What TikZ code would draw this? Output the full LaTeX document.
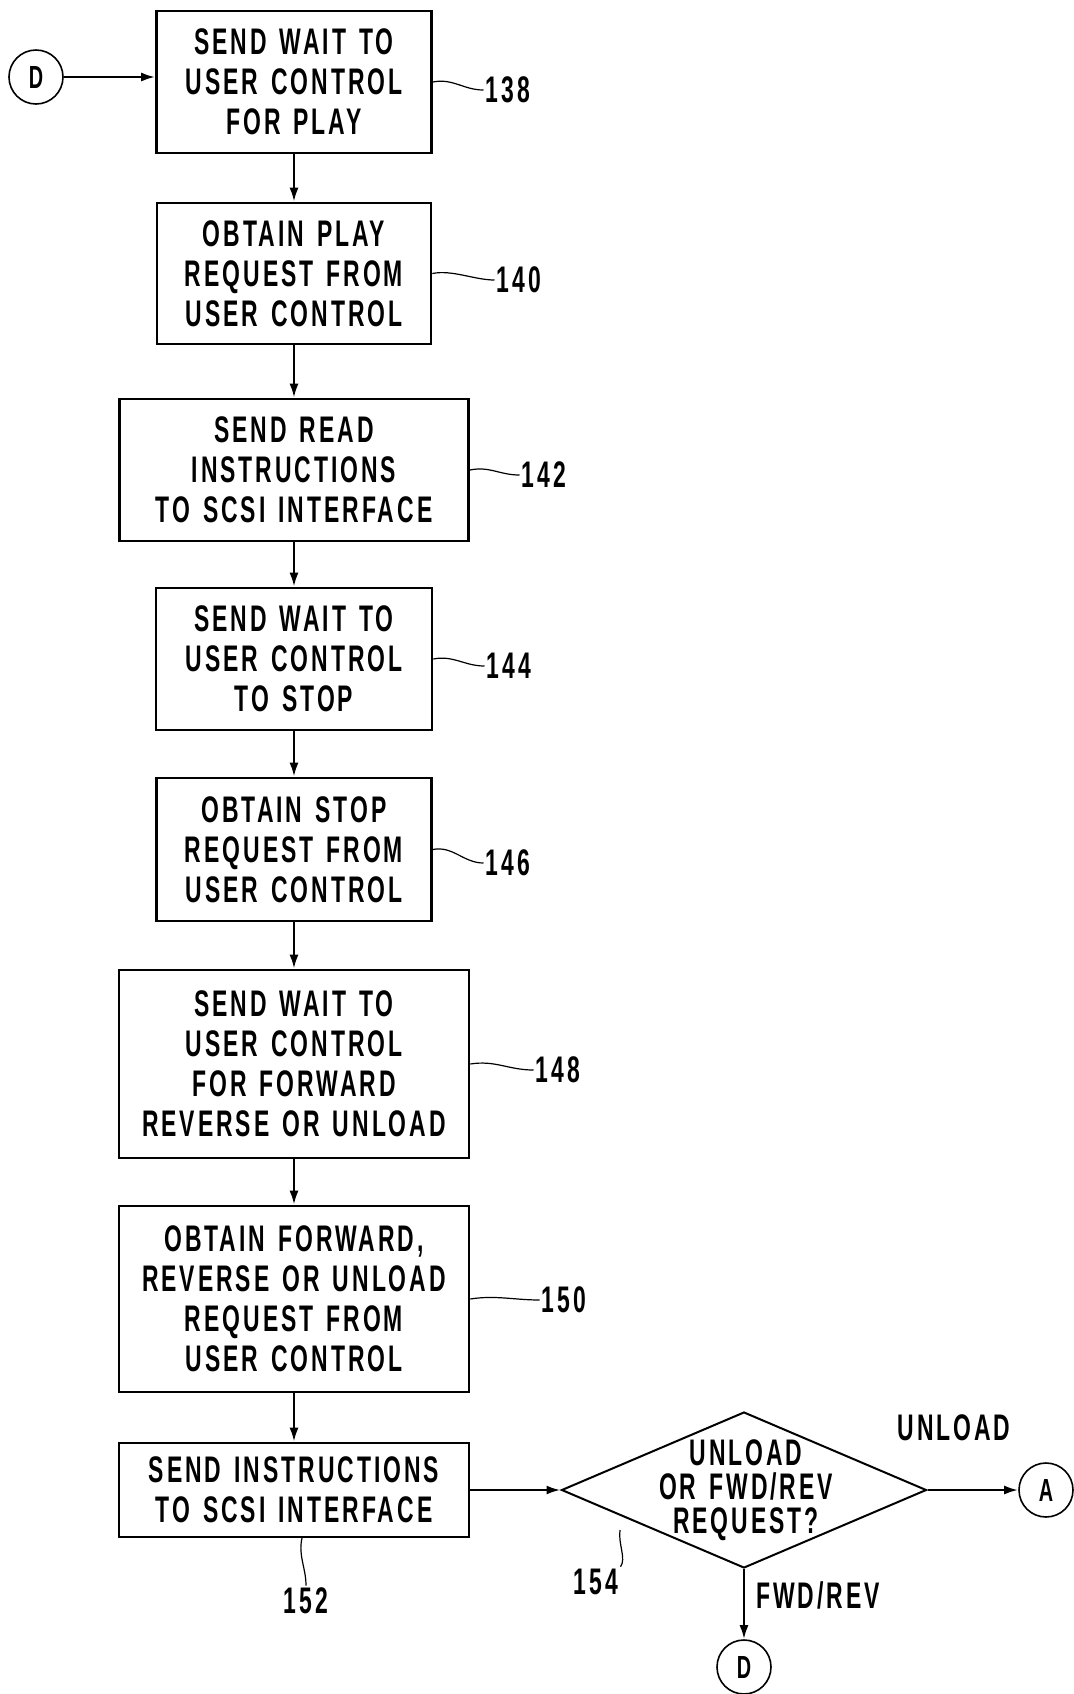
\documentclass[tikz,border=0pt]{standalone}
\usepackage{fontspec}
\setmainfont{Liberation Sans}
\newfontfamily\patfont{Liberation Sans}[FakeStretch=0.62, LetterSpace=8, WordSpace=1.4]
\usetikzlibrary{shapes.geometric, arrows.meta, positioning}

\begin{document}
\begin{tikzpicture}[x=0.5pt, y=-0.5pt,
  stepbox/.style={draw, line width=1.3pt, align=center, inner sep=0pt, font=\patfont\bfseries\fontsize{18.5}{20}\selectfont},
  decision/.style={draw, diamond, line width=1pt, inner sep=0pt, minimum width=182.5pt, minimum height=78pt},
  conn/.style={draw, circle, line width=0.8pt, inner sep=0pt, minimum size=27pt, font=\patfont\bfseries\fontsize{16}{16}\selectfont},
  flow/.style={-{Latex[length=7pt, width=4.5pt]}, line width=1.2pt},
  refnum/.style={inner sep=1pt, font=\patfont\bfseries\fontsize{18.5}{18.5}\selectfont},
  lead/.style={line width=0.6pt}
]
  \useasboundingbox (0,0) rectangle (1074,1694);

  % process steps
  \node[stepbox, minimum width=137.5pt, minimum height=71pt] (b138) at (294,82) {SEND WAIT TO\\USER CONTROL\\FOR PLAY};
  \node[stepbox, minimum width=137pt, minimum height=70.5pt] (b140) at (294,273.5) {OBTAIN PLAY\\REQUEST FROM\\USER CONTROL};
  \node[stepbox, minimum width=174.5pt, minimum height=71pt] (b142) at (294,470) {SEND READ\\INSTRUCTIONS\\TO SCSI INTERFACE};
  \node[stepbox, minimum width=138pt, minimum height=71pt] (b144) at (294,659) {SEND WAIT TO\\USER CONTROL\\TO STOP};
  \node[stepbox, minimum width=137.5pt, minimum height=71.5pt] (b146) at (294,849.5) {OBTAIN STOP\\REQUEST FROM\\USER CONTROL};
  \node[stepbox, minimum width=175pt, minimum height=94pt] (b148) at (294,1064) {SEND WAIT TO\\USER CONTROL\\FOR FORWARD\\REVERSE OR UNLOAD};
  \node[stepbox, minimum width=175pt, minimum height=93pt] (b150) at (294,1299) {OBTAIN FORWARD,\\REVERSE OR UNLOAD\\REQUEST FROM\\USER CONTROL};
  \node[stepbox, minimum width=175pt, minimum height=47pt] (b152) at (294,1490) {SEND INSTRUCTIONS\\TO SCSI INTERFACE};

  % decision
  \node[decision] (dec) at (744,1490) {};
  \node[align=center, font=\patfont\bfseries\fontsize{18.5}{17}\selectfont] (dectext) at (746,1490) {UNLOAD\\OR FWD/REV\\REQUEST?};

  % connectors
  \node[conn] (cd1) at (36,77) {D};
  \node[conn] (ca) at (1046,1490) {A};
  \node[conn] (cd2) at (744,1667) {D};

  % branch labels
  \node[refnum] (lunload) at (954,1428) {UNLOAD};
  \node[refnum] (lfwdrev) at (818,1595) {FWD/REV};

  % reference numbers
  \node[refnum] (n138) at (508,90) {138};
  \node[refnum] (n140) at (519,280) {140};
  \node[refnum] (n142) at (544,475) {142};
  \node[refnum] (n144) at (509,666) {144};
  \node[refnum] (n146) at (508,863) {146};
  \node[refnum] (n148) at (558,1070) {148};
  \node[refnum] (n150) at (564,1300) {150};
  \node[refnum] (n152) at (306,1601) {152};
  \node[refnum] (n154) at (596,1582) {154};
  \coordinate (t152) at (302,1538);
  \coordinate (t154) at (620,1530);

  % flow
  \draw[flow] (cd1) -- (cd1 -| b138.west);
  \draw[flow] (b138) -- (b140);
  \draw[flow] (b140) -- (b142);
  \draw[flow] (b142) -- (b144);
  \draw[flow] (b144) -- (b146);
  \draw[flow] (b146) -- (b148);
  \draw[flow] (b148) -- (b150);
  \draw[flow] (b150) -- (b152);
  \draw[flow] (b152) -- (dec);
  \draw[flow] (dec.east) -- (ca);
  \draw[flow] (dec.south) -- (cd2);

  % leaders
  \draw[lead] (b138.east) .. controls +(20,-4) and +(-20,0) .. (n138.west);
  \draw[lead] (b140.east) .. controls +(20,-4) and +(-20,0) .. (n140.west);
  \draw[lead] (b142.east) .. controls +(20,-4) and +(-20,0) .. (n142.west);
  \draw[lead] (b144.east) .. controls +(20,-4) and +(-20,0) .. (n144.west);
  \draw[lead] (b146.east) .. controls +(20,-4) and +(-20,0) .. (n146.west);
  \draw[lead] (b148.east) .. controls +(25,-4) and +(-25,0) .. (n148.west);
  \draw[lead] (b150.east) .. controls +(25,-4) and +(-25,0) .. (n150.west);
  \draw[lead] (t152) .. controls +(-4,18) and +(0,-18) .. (n152.north);
  \draw[lead] (t154) .. controls +(-2,14) and +(6,-8) .. (n154.north east);
\end{tikzpicture}
\end{document}
